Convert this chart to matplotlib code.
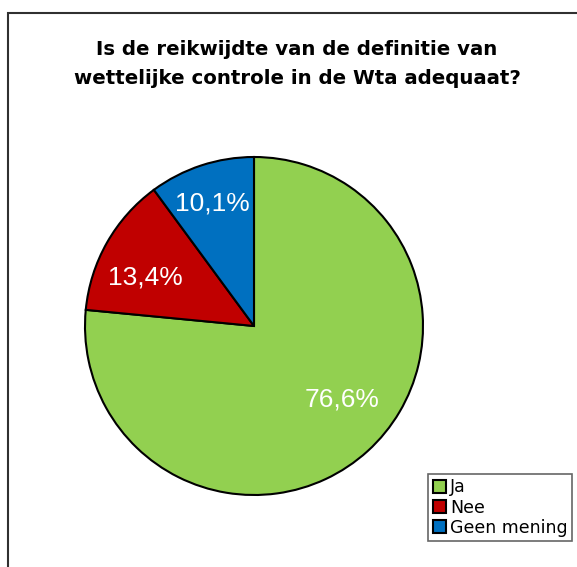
import matplotlib.pyplot as plt
from matplotlib.patches import Rectangle

categories = ["Ja", "Nee", "Geen mening"]
values = [76.6, 13.4, 10.1]
labels = ["76,6%", "13,4%", "10,1%"]
colors = ["#92d050", "#c00000", "#0070c0"]
title = "Is de reikwijdte van de definitie van\nwettelijke controle in de Wta adequaat?"

W, H = 577, 567
fig = plt.figure(figsize=(W / 100, H / 100), dpi=100)

# chart frame (runs off the right and bottom edge)
fig.patches.append(Rectangle((8 / W, -0.01), 1.0, 1 - 13 / H + 0.01,
                             transform=fig.transFigure, fill=False,
                             edgecolor="#303030", linewidth=1.5))

# pie: centre (254, 326) px, radius 169 px
cx, cy, r = 254, 326, 169
ax = fig.add_axes([(cx - r) / W, (H - cy - r) / H, 2 * r / W, 2 * r / H])
wedges, _ = ax.pie(values, colors=colors, startangle=90, counterclock=False,
                   wedgeprops=dict(edgecolor="black", linewidth=1.5))
ax.set_xlim(-1, 1)
ax.set_ylim(-1, 1)
ax.set_aspect("equal")

# percentage labels
label_pos = [(342, 400), (145, 278), (212, 203)]
for (px, py), txt in zip(label_pos, labels):
    fig.text(px / W, 1 - py / H, txt, color="white", fontsize=19,
             family="Liberation Sans", ha="center", va="center")

fig.text(297 / W, 1 - 64 / H, title, ha="center", va="center", fontsize=14.2,
         fontweight="bold", family="DejaVu Sans", linespacing=1.65)

leg = fig.legend(wedges, categories, loc="lower right",
                 bbox_to_anchor=(572 / W, 1 - 541 / H),
                 frameon=True, fancybox=False, borderaxespad=0,
                 handlelength=0.75, handleheight=0.75, handletextpad=0.25,
                 borderpad=0.25, labelspacing=0.12,
                 prop=dict(family="DejaVu Sans", size=12.5))
leg.get_frame().set_edgecolor("#404040")
leg.get_frame().set_linewidth(1.2)
for h in leg.legend_handles:
    h.set_edgecolor("black")
    h.set_linewidth(1.5)

fig.savefig("out.png", dpi=100)
